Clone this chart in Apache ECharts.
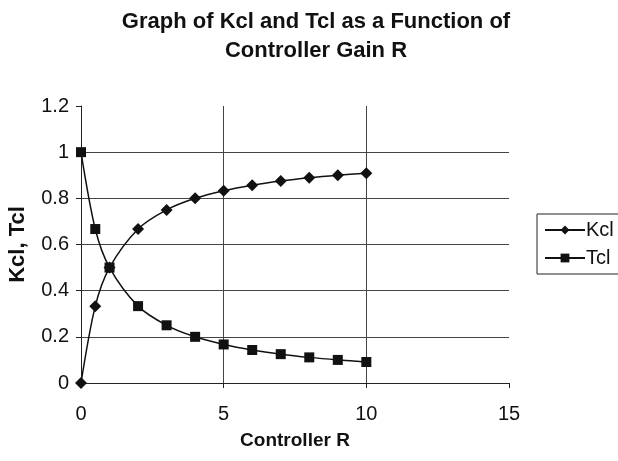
<!DOCTYPE html>
<html><head><meta charset="utf-8">
<script src="https://cdn.jsdelivr.net/npm/echarts@6/dist/echarts.min.js"></script>
<style>html,body{margin:0;padding:0;background:#fff}#c{width:618px;height:461px}</style>
</head><body><div id="c"></div>
<script>
var R   = [0, 0.5, 1, 2, 3, 4, 5, 6, 7, 8, 9, 10];
var Kcl = [0, 0.333, 0.5, 0.667, 0.75, 0.8, 0.833, 0.857, 0.875, 0.889, 0.9, 0.909];
var Tcl = [1, 0.667, 0.5, 0.333, 0.25, 0.2, 0.167, 0.143, 0.125, 0.111, 0.1, 0.091];
var xTicks = [0, 5, 10, 15];
var yTicks = [0, 0.2, 0.4, 0.6, 0.8, 1, 1.2];

function pairs(xs, ys){ return xs.map(function(x,i){ return [x, ys[i]]; }); }
var font = 'Liberation Sans, Arial, sans-serif';
var chart = echarts.init(document.getElementById('c'));
chart.setOption({
  animation: false,
  backgroundColor: '#fff',
  title: {
    text: 'Graph of Kcl and Tcl as a Function of\nController Gain R',
    left: 311, textAlign: 'center', top: 2,
    textStyle: {fontFamily: font, fontSize: 22, fontWeight: 'bold', color: '#111', lineHeight: 29}
  },
  legend: {
    orient: 'vertical', left: 537, top: 214,
    borderColor: '#222', borderWidth: 1, padding: [6, 30, 6, 7],
    itemWidth: 40, itemHeight: 11, itemGap: 8,
    textStyle: {fontFamily: font, fontSize: 20, color: '#111', padding: [0,0,0,-4]},
    data: ['Kcl', 'Tcl']
  },
  grid: {left: 81, right: 109, top: 106, bottom: 78, containLabel: false, outerBoundsMode: 'none'},
  xAxis: {
    type: 'value', min: 0, max: 15, interval: 5,
    name: 'Controller R', nameLocation: 'middle', nameGap: 48,
    nameTextStyle: {fontFamily: font, fontSize: 19, fontWeight: 'bold', color: '#111'},
    axisLine: {show: true, lineStyle: {color: '#222', width: 1}},
    axisTick: {show: true, length: 5, lineStyle: {color: '#222'}},
    axisLabel: {fontFamily: font, fontSize: 20, color: '#111', margin: 21,
      formatter: function(v){ return xTicks.indexOf(v) >= 0 ? String(v) : ''; }},
    splitLine: {show: true, showMinLine: false, showMaxLine: false, lineStyle: {color: '#444', width: 1}}
  },
  yAxis: {
    type: 'value', min: 0, max: 1.2, interval: 0.2,
    name: 'Kcl, Tcl', nameLocation: 'middle', nameGap: 52,
    nameTextStyle: {fontFamily: font, fontSize: 22, fontWeight: 'bold', color: '#111'},
    axisLine: {show: true, lineStyle: {color: '#222', width: 1}},
    axisTick: {show: true, length: 5, lineStyle: {color: '#222'}},
    axisLabel: {fontFamily: font, fontSize: 20, color: '#111', margin: 12,
      formatter: function(v){ var r = Math.round(v*10)/10; return yTicks.indexOf(r) >= 0 ? String(r) : ''; }},
    splitLine: {show: true, showMinLine: false, showMaxLine: false, lineStyle: {color: '#444', width: 1}}
  },
  series: [
    {name: 'Kcl', type: 'line', data: pairs(R, Kcl), smooth: 0.3,
     symbol: 'diamond', symbolSize: 12,
     lineStyle: {color: '#111', width: 1.5}, itemStyle: {color: '#111'}},
    {name: 'Tcl', type: 'line', data: pairs(R, Tcl), smooth: 0.3,
     symbol: 'rect', symbolSize: 10,
     lineStyle: {color: '#111', width: 1.5}, itemStyle: {color: '#111'}}
  ]
});
</script></body></html>
